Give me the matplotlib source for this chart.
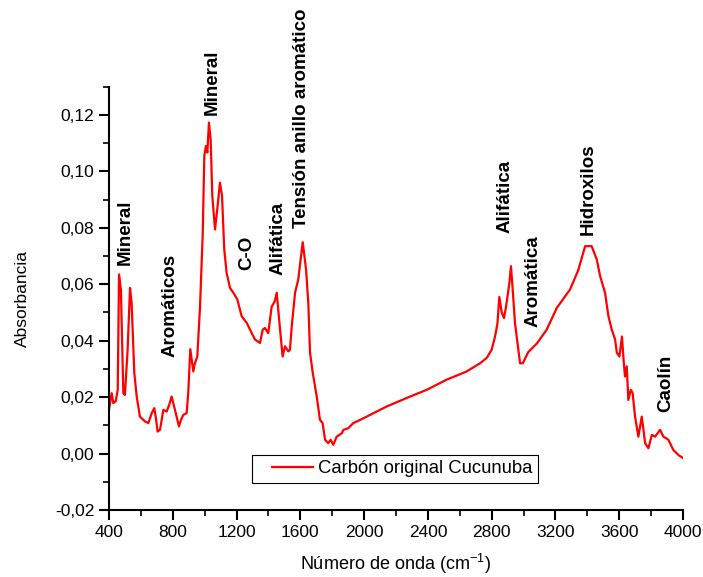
import matplotlib
matplotlib.use("Agg")
import matplotlib.pyplot as plt
from matplotlib.lines import Line2D
from matplotlib.legend_handler import HandlerLine2D
from matplotlib.ticker import MultipleLocator, FuncFormatter

plt.rcParams['font.family'] = ['Liberation Sans', 'DejaVu Sans']
plt.rcParams['mathtext.default'] = 'regular'

# espectro FTIR
wn = [400, 417, 427, 442, 455, 463, 475, 490, 500, 517,
      532, 542, 559, 574, 594, 626, 647, 668, 684, 693,
      705, 720, 741, 762, 778, 793, 814, 839, 852, 866,
      887, 897, 910, 929, 939, 954, 971, 988, 998, 1008,
      1017, 1027, 1038, 1048, 1065, 1079, 1096, 1109, 1123, 1138,
      1159, 1180, 1205, 1232, 1264, 1295, 1316, 1347, 1364, 1378,
      1399, 1420, 1440, 1452, 1473, 1489, 1504, 1525, 1535, 1546,
      1567, 1587, 1615, 1636, 1650, 1661, 1678, 1703, 1723, 1740,
      1755, 1775, 1790, 1807, 1828, 1860, 1870, 1901, 1932, 1985,
      2058, 2142, 2267, 2393, 2518, 2643, 2727, 2769, 2800, 2821,
      2836, 2848, 2863, 2877, 2890, 2911, 2921, 2932, 2946, 2978,
      2995, 3030, 3083, 3145, 3208, 3291, 3343, 3386, 3417, 3427,
      3459, 3480, 3511, 3532, 3553, 3574, 3585, 3601, 3617, 3627,
      3636, 3647, 3657, 3672, 3684, 3699, 3720, 3741, 3752, 3762,
      3783, 3804, 3825, 3856, 3877, 3908, 3939, 3971, 4000]
absorb = [0.0155, 0.0214, 0.0179, 0.0185, 0.0226, 0.0635, 0.058, 0.0214, 0.0208, 0.0368,
          0.0587, 0.0534, 0.0285, 0.0202, 0.0131, 0.0114, 0.0108, 0.0143, 0.0161, 0.0131,
          0.0078, 0.0084, 0.0155, 0.0149, 0.0173, 0.0202, 0.0155, 0.0096, 0.012, 0.0137,
          0.0143, 0.0214, 0.037, 0.0291, 0.032, 0.0344, 0.052, 0.078, 0.1055, 0.109,
          0.1067, 0.1173, 0.111, 0.0913, 0.0794, 0.0865, 0.096, 0.0913, 0.0723, 0.064,
          0.0587, 0.057, 0.0546, 0.0487, 0.0463, 0.0427, 0.0404, 0.0392, 0.0439, 0.0445,
          0.0427, 0.052, 0.054, 0.057, 0.0439, 0.0344, 0.038, 0.0362, 0.0368, 0.045,
          0.057, 0.0617, 0.0749, 0.0652, 0.0534, 0.0357, 0.0286, 0.0202, 0.012, 0.0108,
          0.0049, 0.0037, 0.0049, 0.0031, 0.006, 0.0072, 0.0084, 0.009, 0.0108, 0.0122,
          0.0143, 0.0167, 0.0197, 0.0226, 0.0262, 0.0291, 0.032, 0.0339, 0.0368, 0.0415,
          0.046, 0.0555, 0.050, 0.048, 0.052, 0.0605, 0.0664, 0.058, 0.0463, 0.032,
          0.032, 0.036, 0.039, 0.0439, 0.0516, 0.0581, 0.065, 0.0735, 0.0735, 0.0735,
          0.0688, 0.0629, 0.057, 0.0487, 0.0439, 0.0404, 0.0357, 0.0344, 0.0415, 0.0333,
          0.0273, 0.0309, 0.019, 0.0226, 0.0214, 0.0131, 0.006, 0.0131, 0.0084, 0.0037,
          0.0019, 0.0066, 0.006, 0.0084, 0.006, 0.0049, 0.0013, -0.0005, -0.0016]

# bandas asignadas
band_names = ["Mineral", "Aromáticos", "Mineral", "C-O", "Alifática",
              "Tensión anillo aromático", "Alifática", "Aromática", "Hidroxilos", "Caolín"]
band_x = [500, 783, 1046, 1265, 1460, 1610, 2884, 3059, 3404, 3893]
band_y = [0.067, 0.0343, 0.120, 0.0652, 0.0634, 0.080, 0.0783, 0.045, 0.0776, 0.0148]

fig = plt.figure(figsize=(7.03, 5.77), dpi=100)
ax = fig.add_axes([0.155, 0.1161, 0.8166, 0.7336])

ax.plot(wn, absorb, color='red', lw=1.6, label='Carbón original Cucunuba')

for name, x, y in zip(band_names, band_x, band_y):
    ax.text(x, y, name, rotation=90, ha='center', va='bottom',
            fontsize=13.5, fontweight='bold')

ax.set_xlim(400, 4000)
ax.set_ylim(-0.02, 0.13)
ax.xaxis.set_major_locator(MultipleLocator(400))
ax.xaxis.set_minor_locator(MultipleLocator(200))
ax.yaxis.set_major_locator(MultipleLocator(0.02))
ax.yaxis.set_minor_locator(MultipleLocator(0.01))
ax.yaxis.set_major_formatter(FuncFormatter(lambda v, p: f"{v:.2f}".replace('.', ',')))

for s in ['top', 'right']:
    ax.spines[s].set_visible(False)
for s in ['left', 'bottom']:
    ax.spines[s].set_linewidth(1.5)
ax.tick_params(which='major', direction='out', length=7, width=1.5, labelsize=12.5)
ax.tick_params(which='minor', direction='out', length=4, width=1.2)

ax.set_xlabel('Número de onda (cm$^{-1}$)', fontsize=13, labelpad=9)
ax.set_ylabel('Absorbancia', fontsize=12.5, labelpad=18)

leg = ax.legend(loc='lower left', bbox_to_anchor=(0.2486, 0.0638), borderaxespad=0,
                fancybox=False, edgecolor='black', framealpha=1, fontsize=13.3,
                handlelength=3.0, handletextpad=0.3, borderpad=0.3,
                handler_map={Line2D: HandlerLine2D(xpad=0.8)})
leg.get_frame().set_linewidth(0.8)

fig.savefig('out.png', dpi=100)
